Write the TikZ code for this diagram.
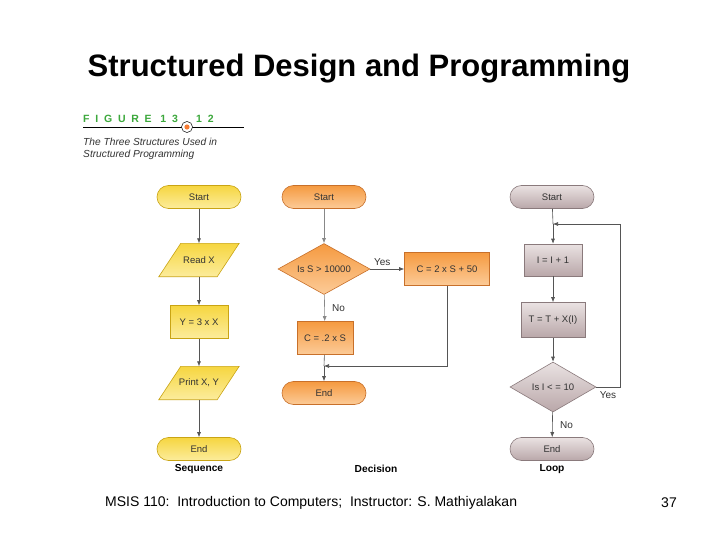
\documentclass[tikz,border=0pt]{standalone}
\usepackage{fontspec}
\setmainfont{Liberation Sans}
\usetikzlibrary{shapes.geometric,arrows.meta}
\definecolor{yelT}{HTML}{F6D640}
\definecolor{yelB}{HTML}{FCEC9C}
\definecolor{yelD}{HTML}{C9A414}
\definecolor{orT}{HTML}{F59A40}
\definecolor{orB}{HTML}{FCCB98}
\definecolor{orD}{HTML}{C8702A}
\definecolor{grT}{HTML}{EAE2E2}
\definecolor{grB}{HTML}{B9A7A9}
\definecolor{grD}{HTML}{8A7A7C}
\definecolor{figgreen}{HTML}{3CA83C}
\definecolor{txt}{HTML}{333333}
\definecolor{lin}{HTML}{555555}
\tikzset{
  yel/.style={top color=yelT, bottom color=yelB, draw=yelD},
  orng/.style={top color=orT, bottom color=orB, draw=orD},
  gry/.style={top color=grT, bottom color=grB, draw=grD},
  small/.style={font=\fontsize{9.5}{11}\selectfont, text=txt},
  term/.style={small, rounded corners=11.5, minimum width=84, minimum height=23, inner sep=0, line width=0.6},
  proc/.style={small, minimum height=33, inner sep=0, line width=0.6},
  dia/.style={shape=diamond, minimum width=92, minimum height=51, inner sep=0, line width=0.6},
  para/.style={small, minimum width=80, minimum height=33, inner sep=0},
  flow/.style={-{Latex[length=5,width=4]}, draw=lin, line width=0.6},
  lab/.style={font=\fontsize{10}{11}\selectfont, text=txt},
  flowcap/.style={font=\fontsize{10.2}{11}\selectfont\bfseries, text=black},
  figlab/.style={anchor=west, inner sep=0, text=figgreen, font=\fontsize{10.5}{12}\selectfont\bfseries\addfontfeatures{LetterSpace=55}},
}
\begin{document}
\begin{tikzpicture}[x=1pt,y=-1pt]
\useasboundingbox (0,0) rectangle (720,540);
\fill[white] (0,0) rectangle (720,540);

% title
\node[font=\fontsize{31}{34}\selectfont\bfseries] (title) at (359,69) {Structured Design and Programming};

% figure label
\draw[line width=0.6] (83,127) -- (244,127);
\node[figlab] (fig) at (83,119) {FIGURE 13};
\node[circle, draw=black, fill=white, line width=0.5, minimum size=11, inner sep=0] (dot) at (187,127) {};
\fill[orT!80!red] (dot.center) circle (2.6);
\node[figlab] (fig2) at (196,119) {12};
\node[anchor=west, inner sep=0, font=\fontsize{10.2}{12}\selectfont\itshape, text=txt] (figcap1) at (83,142) {The Three Structures Used in};
\node[anchor=west, inner sep=0, font=\fontsize{10.2}{12}\selectfont\itshape, text=txt] (figcap2) at (83,155) {Structured Programming};

% Sequence
\node[term, yel] (s1) at (199,197) {Start};
\node[para] (s2) at (199,260) {};
\draw[yel, line width=0.6] ([xshift=22]s2.north west) -- (s2.north east) -- ([xshift=-22]s2.south east) -- (s2.south west) -- cycle;
\node[small] at (s2.center) {Read X};
\node[proc, yel, minimum width=58] (s3) at (199,322) {Y = 3 x X};
\node[para] (s4) at (199,383) {};
\draw[yel, line width=0.6] ([xshift=22]s4.north west) -- (s4.north east) -- ([xshift=-22]s4.south east) -- (s4.south west) -- cycle;
\node[small] at (s4.center) {Print X, Y};
\node[term, yel] (s5) at (199,449) {End};
\draw[flow] (s1) -- (s2);
\draw[flow] (s2) -- (s3);
\draw[flow] (s3) -- (s4);
\draw[flow] (s4) -- (s5);
\node[flowcap] (seqcap) at (199,469) {Sequence};

% Decision
\node[term, orng] (d1) at (324,197) {Start};
\node[dia, orng] (d2) at (324,269) {};
\node[small] at (d2.center) {Is S > 10000};
\node[proc, orng, minimum width=85] (d3) at (447,269) {C = 2 x S + 50};
\node[proc, orng, minimum width=56] (d4) at (325,338) {C = .2 x S};
\node[term, orng] (d5) at (324,393) {End};
\coordinate (dj) at (324,366);
\draw[flow, draw=lin!70] (d1) -- (d2);
\draw[flow] (d2) -- node[lab, above, pos=0.35] {Yes} (d3);
\draw[flow, draw=lin!70] (d2) -- node[lab, right, xshift=4] {No} (d4);
\draw[draw=lin, line width=0.6] (d4) -- (dj);
\draw[flow] (d3.south) |- (dj);
\draw[flow] (dj) -- (d5);
\node[flowcap] (deccap) at (376,469) {Decision};

% Loop
\node[term, gry] (l1) at (552,197) {Start};
\node[proc, gry, minimum width=58, minimum height=32] (l2) at (553,260) {I = I + 1};
\node[proc, gry, minimum width=64, minimum height=35] (l3) at (553,320) {T = T + X(I)};
\node[dia, gry, minimum width=86, minimum height=50] (l4) at (553,387) {};
\node[small] at (l4.center) {Is I < = 10};
\node[term, gry] (l5) at (552,449) {End};
\coordinate (lj) at (553,224);
\draw[draw=lin, line width=0.6] (l1) -- (lj);
\draw[flow] (lj) -- (l2);
\draw[flow] (l2) -- (l3);
\draw[flow] (l3) -- (l4);
\draw[flow] (l4.east) -- (620,387) |- (lj);
\node[lab] (yes2) at (608,395) {Yes};
\draw[flow] (l4) -- node[lab, right, xshift=4] {No} (l5);
\node[flowcap] (loopcap) at (552,469) {Loop};

% footer
\node[anchor=west, inner sep=0, font=\fontsize{14}{16}\selectfont] (foot) at (105,503) {MSIS 110:\ \ Introduction to Computers;\ \ Instructor: S. Mathiyalakan};
\node[inner sep=0, font=\fontsize{14}{16}\selectfont] (page) at (669,503) {37};
\end{tikzpicture}
\end{document}
